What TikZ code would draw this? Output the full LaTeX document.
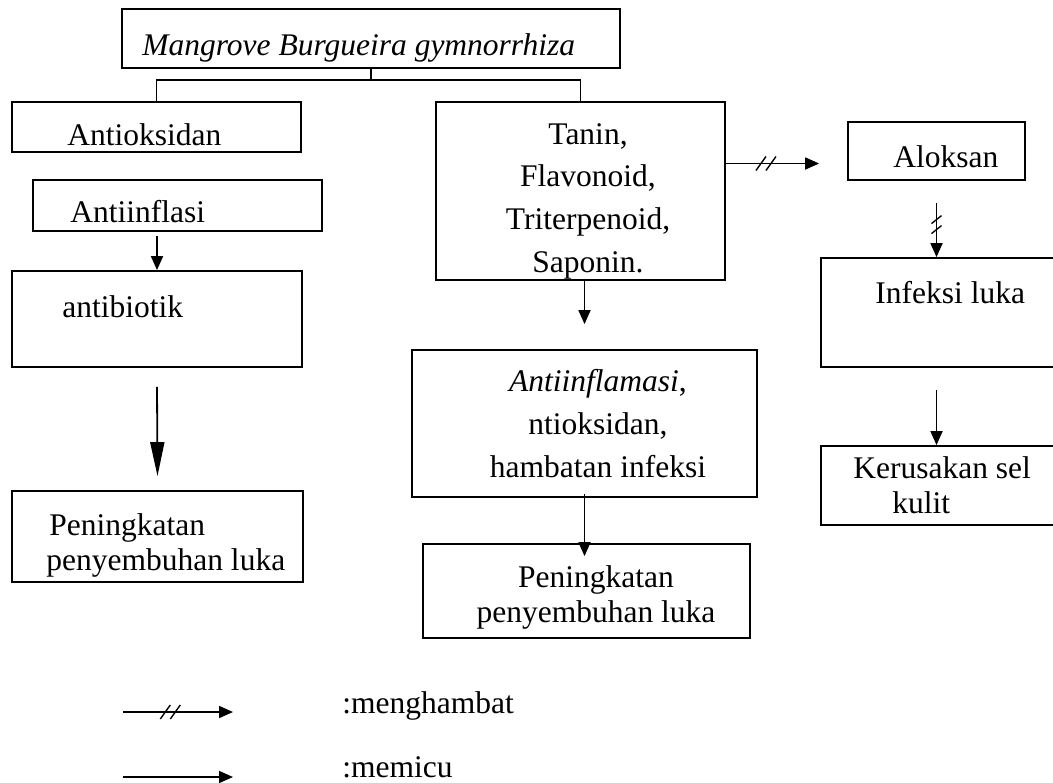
\documentclass[tikz,border=0pt]{standalone}
\usepackage{fontspec}
\setmainfont{Liberation Serif}
\usetikzlibrary{arrows.meta,decorations.markings}
\tikzstyle{kotak} = [
    draw,
    line width=0.9pt,
    rectangle,
    inner sep=0pt
    ]
\tikzstyle{teks} = [inner sep=0pt, font=\fontsize{15.75pt}{17.5pt}\selectfont]
\tikzstyle{teksjarang} = [inner sep=0pt, font=\fontsize{15.75pt}{21.3pt}\selectfont]
\tikzstyle{garis} = [line width=0.9pt]
\tikzstyle{memicu} = [garis, -{Triangle[length=7pt,width=6pt]}]
\tikzstyle{memicupanjang} = [garis, -{Triangle[length=17pt,width=7pt]}]
\tikzstyle{hambat} = [memicu, postaction={decorate},
    decoration={markings, mark=at position 0.43 with {%
        \draw[-, line width=0.7pt] (-5pt,-3.5pt) -- (0pt,3.5pt) (0pt,-3.5pt) -- (5pt,3.5pt);}}]
\tikzstyle{hambatv} = [memicu, postaction={decorate},
    decoration={markings, mark=at position 0.4 with {%
        \draw[-, line width=0.7pt] (-4.5pt,2.5pt) -- (-0.5pt,-2.5pt) (0.5pt,2.5pt) -- (4.5pt,-2.5pt);}}]

\begin{document}
\begin{tikzpicture}[x=0.5pt, y=-0.5pt]
\useasboundingbox (0,0) rectangle (1053,782);
\clip (0,0) rectangle (1053,782);

% kotak
\node[kotak, minimum width=249pt, minimum height=29.5pt] (mangrove) at (371,38.5) {};
\node[kotak, minimum width=144.5pt, minimum height=25pt] (antiok) at (156.5,127) {};
\node[kotak, minimum width=144.5pt, minimum height=25.5pt] (antiinf) at (177.5,205.5) {};
\node[kotak, minimum width=145pt, minimum height=48pt] (antibio) at (157,319) {};
\node[kotak, minimum width=145.5pt, minimum height=45.5pt] (sembuhkiri) at (157.5,536.5) {};
\node[kotak, minimum width=144.5pt, minimum height=89pt] (tanin) at (580.5,191) {};
\node[kotak, minimum width=172.5pt, minimum height=73.5pt] (inflamasi) at (584.5,423.5) {};
\node[kotak, minimum width=163.5pt, minimum height=47pt] (sembuhtengah) at (586.5,591) {};
\node[kotak, minimum width=88.5pt, minimum height=29pt] (aloksan) at (936.5,151) {};
\node[kotak, minimum width=119.5pt, minimum height=54.5pt] (infeksi) at (940.5,312.5) {};
\node[kotak, minimum width=119.5pt, minimum height=39.5pt] (kerusakan) at (940.5,485.5) {};

% teks (base = baris terakhir)
\node[teks, anchor=base west] (mangrove-t) at (142,55) {\itshape Mangrove Burgueira gymnorrhiza};
\node[teks, anchor=base west] (antiok-t) at (67,145) {Antioksidan};
\node[teks, anchor=base west] (antiinf-t) at (70,222) {Antiinflasi};
\node[teks, anchor=base west] (antibio-t) at (62,317) {antibiotik};
\node[teks, anchor=base west, align=left] (sembuhkiri-t) at (46,570) {\hspace*{1.5pt}Peningkatan\\penyembuhan luka};
\node[teksjarang, anchor=base, align=center] (tanin-t) at (588,272) {Tanin,\\Flavonoid,\\Triterpenoid,\\Saponin.};
\node[teksjarang, anchor=base, align=center] (inflamasi-t) at (598,477) {\textit{Antiinflamasi},\\ntioksidan,\\hambatan infeksi};
\node[teks, anchor=base, align=center] (sembuhtengah-t) at (596,622) {Peningkatan\\penyembuhan luka};
\node[teks, anchor=base west] (aloksan-t) at (893,167) {Aloksan};
\node[teks, anchor=base west] (infeksi-t) at (875,303) {Infeksi luka};
\node[teks, anchor=base west, align=left] (kerusakan-t) at (853,513) {Kerusakan sel\\\hspace*{19.5pt}kulit};

% garis
\coordinate (cabang) at (371,80);
\draw[garis] (mangrove.south) -- (cabang);
\draw[garis] (antiok.north) |- (cabang) -| (tanin.north);
\draw[memicu] ([yshift=-2pt]antiinf.south -| antibio.north) -- (antibio.north);
\draw[memicupanjang] ([yshift=-9.5pt]antibio.south) -- ([yshift=7pt]sembuhkiri.north);
\draw[memicu] ([xshift=2pt]tanin.south) -- ([yshift=12.5pt]inflamasi.north);
\draw[memicu] ([yshift=2pt]inflamasi.south) -- ([yshift=-6.5pt]inflamasi.south |- sembuhtengah.north);
\draw[hambat] ([yshift=13.75pt]tanin.east) coordinate (h) -- ([xshift=-14pt]aloksan.west |- h);
\draw[hambatv] ([yshift=-11pt]aloksan.south) -- (aloksan.south |- infeksi.north);
\draw[memicu] ([yshift=-11pt]aloksan.south |- infeksi.south) -- (aloksan.south |- kerusakan.north);

% keterangan
\coordinate (k1a) at (123,712);
\coordinate (k1b) at (233,712);
\coordinate (k2a) at (123,777);
\coordinate (k2b) at (233,777);
\draw[hambat] (k1a) -- (k1b);
\draw[memicu] (k2a) -- (k2b);
\node[teks, anchor=base west] (ket-hambat) at (342,713) {:menghambat};
\node[teks, anchor=base west] (ket-picu) at (342,777) {:memicu};
\end{tikzpicture}
\end{document}
